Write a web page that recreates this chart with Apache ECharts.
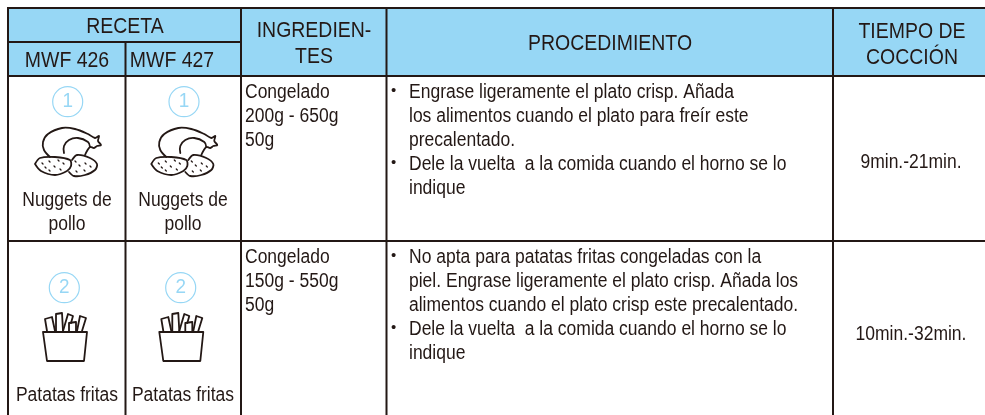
<!DOCTYPE html>
<html><head><meta charset="utf-8">
<style>html,body{margin:0;padding:0;background:#fff}#c{width:985px;height:415px}</style>
<script src="https://cdn.jsdelivr.net/npm/echarts@6/dist/echarts.min.js"></script>
</head><body><div id="c"></div>
<script>
// ---- content ----
const groupHeader = 'RECETA';
const models = ['MWF 426', 'MWF 427'];
const ingredientsHeader = ['INGREDIEN-', 'TES'];
const procedureHeader = 'PROCEDIMIENTO';
const timeHeader = ['TIEMPO DE', 'COCCIÓN'];
const recipeNumbers = ['1', '2'];
const recipeNames = [['Nuggets de', 'pollo'], ['Patatas fritas']];
const ingredients = [['Congelado', '200g - 650g', '50g'], ['Congelado', '150g - 550g', '50g']];
const procedures = [
  [['•', 'Engrase ligeramente el plato crisp. Añada'], ['', 'los alimentos cuando el plato para freír este'], ['', 'precalentado.'], ['•', 'Dele la vuelta  a la comida cuando el horno se lo'], ['', 'indique']],
  [['•', 'No apta para patatas fritas congeladas con la'], ['', 'piel. Engrase ligeramente el plato crisp. Añada los'], ['', 'alimentos cuando el plato crisp este precalentado.'], ['•', 'Dele la vuelta  a la comida cuando el horno se lo'], ['', 'indique']]
];
const times = ['9min.-21min.', '10min.-32min.'];

// ---- layout ----
const INK = '#231815', BLUE = '#97d7f5', FONT = '"Liberation Sans", Arial, sans-serif';
const L = 8, T = 8, R = 985, B = 415, X = [125.5, 241, 386.5, 833], HM = 42, HB = 76, ROW = 241;
const LH = 24;
const g = [];
function txt(s, x, y, o) {
  o = o || {};
  g.push({type: 'text', x, y, scaleX: o.sx || 0.875, silent: true, z: 5,
    style: {text: s, fill: o.fill || INK, font: (o.size || 20) + 'px ' + FONT,
      textAlign: o.align || 'left', textVerticalAlign: 'middle'}});
}
function head(s, x, y, sx) { txt(s, x, y, {size: 22, align: 'center', sx: sx || 0.885}); }
function mid(s, x, y) { txt(s, x, y, {align: 'center'}); }
function line(x1, y1, x2, y2) {
  g.push({type: 'line', silent: true, z: 3, shape: {x1, y1, x2, y2}, style: {stroke: INK, lineWidth: 2}});
}
function localPath(d, x, y, lw) {
  g.push({type: 'group', x, y, silent: true, z: 4, children: d.map(p => ({
    type: 'polyline', silent: true, shape: {points: p.pts, smooth: p.smooth || 0},
    style: {stroke: INK, lineWidth: p.lw || lw, fill: p.fill || 'none', lineJoin: 'round', lineCap: 'round'}}))});
}

// header fill
g.push({type: 'rect', silent: true, z: 1, shape: {x: L, y: T, width: R - L, height: HB - T}, style: {fill: BLUE}});

// grid lines
line(L - 1, T, R, T); line(L, T, L, B); line(L - 1, HB, R, HB); line(L - 1, ROW, R, ROW);
line(L, HM, X[1], HM);
line(X[0], HM, X[0], B);
X.slice(1).forEach(x => line(x, T, x, B));

// header text
head(groupHeader, 125, 27);
head(models[0], 67, 61); head(models[1], 172, 61);
head(ingredientsHeader[0], 314, 31); head(ingredientsHeader[1], 314, 57);
head(procedureHeader, 610, 44);
head(timeHeader[0], 912, 32); head(timeHeader[1], 912, 58);

// chicken & nuggets icon (outlines in icon-local pixels)
const chicken = [
  {smooth: 0.35, pts: [[50, 157], [44, 150], [43, 142], [48, 134], [62, 128], [75, 129], [88, 134], [95, 138], [99, 136], [98, 141], [101, 145], [97, 146], [94, 148], [90, 147], [85, 155]]},
  {smooth: 0.4, pts: [[64, 153], [64, 146], [69, 140], [78, 138], [88, 142], [90, 147]]},
  {smooth: 0.3, pts: [[35, 164], [40, 158], [55, 157], [70, 160], [71, 166], [67, 171], [55, 175], [41, 171], [35, 164]]},
  {smooth: 0.3, pts: [[72, 160], [77, 155], [90, 158], [97, 164], [95, 170], [85, 175], [74, 176], [69, 172]]}
];
const specks = [[42, 163], [49, 161], [58, 160], [63, 163], [45, 167], [54, 166], [60, 169], [49, 170], [75, 161], [79, 165], [85, 163], [90, 166], [76, 171], [84, 170]];
specks.forEach(p => chicken.push({lw: 1.3, pts: [p, [p[0] + 1, p[1] + 1]]}));

// fries icon
const fries = [
  {pts: [[47, 331], [45, 319], [52, 317], [55, 331]]},
  {pts: [[56, 331], [56, 314], [62, 313], [63, 331]]},
  {pts: [[63, 331], [68, 314], [73, 316], [71, 323]]},
  {pts: [[69, 331], [69, 323], [76, 322], [76, 331]]},
  {pts: [[77, 331], [80, 316], [86, 318], [82, 331]]},
  {pts: [[43, 332], [87, 332], [84, 361], [47, 361], [43, 332]]}
];

// body rows
const rowTop = [92, 257];
const circles = [[[67.7, 101.7], [184, 101.7]], [[64.3, 287.7], [180.7, 287.7]]];
const nameY = [[200, 224], [395]];
const nameX = [67, 183];
const timeY = [162, 334];
const iconDx = [0, 116.3];

recipeNumbers.forEach((n, r) => {
  circles[r].forEach(c => {
    g.push({type: 'circle', silent: true, z: 4, shape: {cx: c[0], cy: c[1], r: 15}, style: {stroke: BLUE, lineWidth: 1.2, fill: 'none'}});
    txt(n, c[0], c[1], {size: 21, align: 'center', fill: BLUE, sx: 0.9});
  });
  nameX.forEach((x, i) => {
    recipeNames[r].forEach((s, k) => mid(s, x, nameY[r][k]));
    localPath(r === 0 ? chicken : fries, iconDx[i], 0, 1.8);
  });
  ingredients[r].forEach((s, k) => txt(s, 245, rowTop[r] + k * LH));
  procedures[r].forEach((p, k) => {
    if (p[0]) txt(p[0], 391, rowTop[r] + k * LH - 1, {size: 15, sx: 1});
    txt(p[1], 409, rowTop[r] + k * LH);
  });
  mid(times[r], 911, timeY[r]);
});

const chart = echarts.init(document.getElementById('c'), null, {renderer: 'canvas'});
chart.setOption({animation: false, backgroundColor: '#fff', graphic: {elements: g}});
</script></body></html>
